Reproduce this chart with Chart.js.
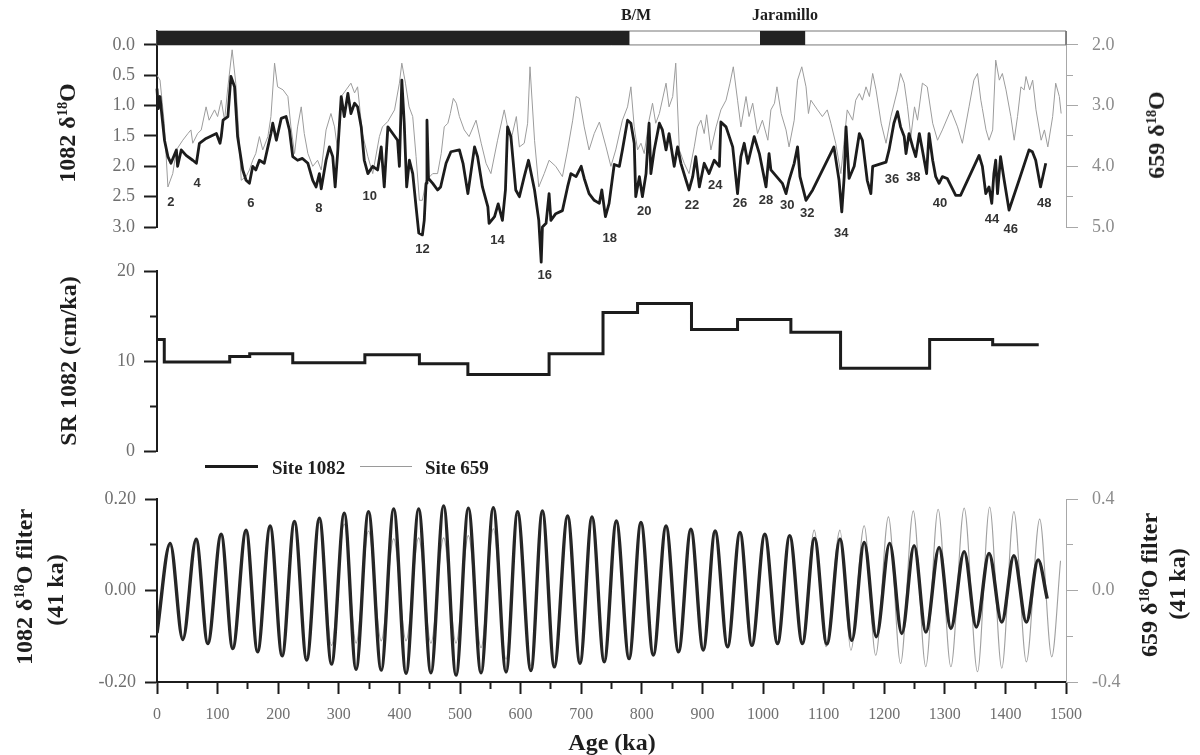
<!DOCTYPE html>
<html>
<head>
<meta charset="utf-8">
<title>ODP 1082 / 659 oxygen isotopes</title>
<script src="https://cdn.jsdelivr.net/npm/chart.js@4.4.1/dist/chart.umd.min.js"></script>
<style>
body { margin: 0; background: #fff; }
#fig { position: relative; width: 1200px; height: 755px; overflow: hidden; font-family: "Liberation Serif", "Times New Roman", serif; }
#fig canvas { position: absolute; left: 0; top: 0; }
.txt { position: absolute; white-space: nowrap; font-weight: bold; color: #1e1e1e; line-height: 1; }
.vert { transform: translate(-50%, -50%) rotate(-90deg); }
.mid { transform: translate(-50%, -50%); }
.sup { font-size: 0.6em; position: relative; top: -0.55em; }
.title { font-size: 24px; }
.chron { font-size: 16px; }
.leg { font-size: 19px; transform: translateY(-50%); }
.legline { position: absolute; height: 0; }
</style>
</head>
<body>
<div id="fig">
	<canvas id="isoChart" width="1200" height="755"></canvas>
	<canvas id="srChart" width="1200" height="755"></canvas>
	<canvas id="filtChart" width="1200" height="755"></canvas>

	<div class="txt chron mid" style="left:636px; top:15px;">B/M</div>
	<div class="txt chron mid" style="left:785px; top:15px;">Jaramillo</div>

	<div class="txt title vert" style="left:67px; top:133px;">1082 δ<span class="sup">18</span>O</div>
	<div class="txt title vert" style="left:1156px; top:135px;">659 δ<span class="sup">18</span>O</div>
	<div class="txt title vert" style="left:68px; top:361px;">SR 1082 (cm/ka)</div>
	<div class="txt title vert" style="left:24px; top:587px;">1082 δ<span class="sup">18</span>O filter</div>
	<div class="txt title vert" style="left:55px; top:590px;">(41 ka)</div>
	<div class="txt title vert" style="left:1149px; top:585px;">659 δ<span class="sup">18</span>O filter</div>
	<div class="txt title vert" style="left:1177px; top:584px;">(41 ka)</div>
	<div class="txt title mid" style="left:612px; top:742px;">Age (ka)</div>

	<div class="legline" style="left:205px; top:465px; width:53px; border-top:3px solid #1c1c1c;"></div>
	<div class="txt leg" style="left:272px; top:467px;">Site 1082</div>
	<div class="legline" style="left:360px; top:466px; width:52px; border-top:1px solid #9a9a9a;"></div>
	<div class="txt leg" style="left:425px; top:467px;">Site 659</div>
</div>

<script>
// ---- data ----

// normal polarity chrons (ka)
var chronStart = [0, 995];
var chronEnd = [780, 1070];

// marine isotope stage numbers and where they sit (age, 1082 d18O units)
var stageNum = [2, 4, 6, 8, 10, 12, 14, 16, 18, 20, 22, 24, 26, 28, 30, 32, 34, 36, 38, 40, 44, 46, 48];
var stageAge = [23, 66, 155, 267, 351, 438, 562, 640, 747, 804, 883, 921, 962, 1005, 1040, 1073, 1129, 1213, 1248, 1292, 1378, 1409, 1464];
var stageDepth = [2.59, 2.29, 2.61, 2.69, 2.49, 3.37, 3.22, 3.80, 3.19, 2.75, 2.64, 2.32, 2.61, 2.56, 2.64, 2.77, 3.10, 2.21, 2.18, 2.61, 2.87, 3.04, 2.61];

// Site 1082 benthic d18O
var age1082 = [0, 2, 5, 8, 12.4, 18, 23, 32, 34, 40, 48, 59, 65, 70, 81, 98, 104, 106, 109, 117,
	122, 128, 133, 141.5, 147, 152.5, 158, 163, 169, 177, 183, 188, 191, 197, 205, 213, 218.5, 224, 232, 240,
	249, 257, 262.5, 268, 271, 279, 284.5, 290, 294, 298, 304, 309, 315, 320, 326, 331, 337, 342, 348, 356,
	364, 370, 375, 381, 389, 397, 400, 404, 408, 412, 416.5, 422, 427.5, 432, 438, 441, 444, 445.5, 448, 455,
	463, 468, 477, 485, 499, 505, 513, 524, 529, 537, 546, 548, 557, 563, 570, 575, 578.5, 584, 592, 598,
	606, 613, 623, 630, 634, 636, 642, 647, 650, 658, 669, 677.5, 683, 691.5, 700, 705, 713, 721.5, 730, 734,
	740, 746, 754.5, 763, 768, 776.5, 782, 787.5, 790, 796, 801, 807, 812, 815, 820.5, 829, 834, 840, 845, 853.5,
	859, 864.5, 873, 878, 884, 889, 895, 903, 911, 919.5, 928, 930.5, 939, 950, 958, 963.5, 969, 975, 985.5, 994,
	1005, 1010, 1013, 1032, 1038, 1043, 1051.5, 1057, 1061, 1071, 1082, 1117, 1125.5, 1130, 1134, 1137, 1142, 1150.5, 1159, 1164,
	1172, 1178, 1181, 1203, 1208, 1216, 1222, 1227, 1233, 1236, 1241, 1247, 1252, 1258, 1263, 1270, 1274, 1280, 1285, 1290.5,
	1296, 1304, 1318, 1326, 1356.6, 1362, 1367.6, 1373, 1377.5, 1381, 1384, 1387, 1392, 1398, 1406, 1422.5, 1439, 1444.5, 1450, 1458,
	1466.6];
var d18o1082 = [0.72, 1.05, 0.85, 1.15, 1.57, 1.84, 1.95, 1.73, 2.0, 1.73, 1.82, 1.9, 1.95, 1.62, 1.54, 1.46, 1.62, 1.51, 1.24, 1.18,
	0.52, 0.69, 1.51, 2.06, 2.23, 2.28, 2.0, 2.06, 1.9, 1.95, 1.68, 1.46, 1.29, 1.57, 1.21, 1.18, 1.4, 1.84, 1.9, 1.87,
	1.95, 2.23, 2.34, 2.12, 2.37, 1.9, 1.68, 1.84, 2.34, 1.79, 0.85, 1.18, 0.8, 1.13, 0.96, 1.02, 1.35, 1.9, 2.12, 2.0,
	2.06, 1.68, 2.34, 1.35, 1.46, 1.57, 2.0, 0.58, 1.29, 2.34, 1.9, 2.12, 2.67, 3.1, 3.13, 2.89, 2.28, 1.24, 2.2, 2.28,
	2.39, 2.34, 1.95, 1.76, 1.73, 1.95, 2.45, 1.68, 1.84, 2.34, 2.67, 2.94, 2.83, 2.62, 2.89, 2.39, 1.35, 1.51, 2.39, 2.5,
	2.17, 1.9, 2.39, 2.89, 3.58, 3.0, 2.94, 2.45, 2.89, 2.78, 2.73, 2.34, 2.12, 2.17, 2.0, 2.2, 2.45, 2.56, 2.61, 2.39,
	2.83, 2.61, 1.97, 2.0, 1.73, 1.24, 1.29, 1.62, 2.5, 2.17, 2.5, 2.12, 1.29, 2.12, 1.73, 1.29, 1.4, 1.73, 1.46, 2.0,
	1.68, 1.95, 2.23, 2.39, 2.17, 1.84, 2.34, 1.95, 2.12, 1.9, 2.0, 1.27, 1.35, 1.68, 2.45, 1.84, 1.62, 1.95, 1.51, 1.79,
	2.34, 1.79, 2.06, 2.28, 2.45, 2.23, 1.95, 1.68, 2.17, 2.56, 2.39, 1.68, 2.23, 2.75, 2.17, 1.35, 2.2, 2.0, 1.46, 1.57,
	2.23, 2.45, 2.0, 1.93, 1.73, 1.29, 1.1, 1.35, 1.51, 1.79, 1.46, 1.68, 1.84, 1.46, 1.73, 2.12, 1.46, 1.9, 2.17, 2.28,
	2.17, 2.2, 2.48, 2.48, 1.82, 2.0, 2.45, 2.34, 2.61, 2.12, 1.9, 2.45, 1.84, 2.23, 2.72, 2.23, 1.73, 1.76, 1.9, 2.34,
	1.95];

// Site 659 benthic d18O
var age659 = [0, 5, 12, 18, 26, 32, 42.5, 51, 56, 59, 67, 73, 81, 86, 95, 100, 106, 111.5, 117, 124,
	130, 135, 139, 147, 152.5, 158, 163, 169, 174.5, 183, 188, 194, 199, 208, 216, 221, 227, 232, 238, 243,
	249, 257, 265, 271, 279, 287, 293, 298, 304, 312, 320, 326, 331, 339, 348, 356, 367, 372, 381, 392,
	400, 404, 410, 416, 422, 427.5, 433, 438, 444, 455, 463, 469, 474, 480, 484, 489, 494, 499, 507, 515,
	526.5, 535, 543, 551, 562, 573, 578.5, 584, 593, 598, 606, 611.6, 615.5, 623, 630, 639, 647, 658, 669, 677.5,
	686, 691.5, 697, 705, 713, 721.5, 730, 741, 749, 757, 768, 776.5, 782, 787.5, 793, 798.6, 804, 812, 817.7, 823,
	829, 840, 845, 851, 856, 862, 870, 878, 886.5, 892, 897.6, 903, 907, 914, 922.6, 930.5, 939, 945.5, 951, 958,
	963.5, 972, 977, 983, 991, 999, 1008, 1013, 1019, 1023, 1030, 1038, 1043, 1051.5, 1057, 1064, 1071, 1075, 1079, 1090,
	1098, 1106, 1112, 1120, 1128.5, 1134, 1139, 1148, 1153, 1159, 1164, 1170, 1175.6, 1181, 1186.5, 1195, 1203, 1211, 1222, 1227,
	1233, 1238.5, 1244, 1250, 1255, 1263, 1271, 1280, 1288, 1296, 1310, 1321, 1329, 1340, 1348, 1354, 1359.5, 1362, 1368, 1373,
	1379, 1384, 1390, 1395, 1401, 1409, 1414.5, 1420, 1425.6, 1431, 1434, 1440, 1445, 1450.5, 1459, 1464.4, 1470, 1478, 1483, 1489,
	1492];
var d18o659 = [2.5, 2.58, 3.29, 4.34, 4.12, 3.73, 3.57, 3.46, 3.4, 3.62, 3.46, 3.4, 3.02, 3.24, 3.07, 3.18, 2.91, 3.24, 2.69, 2.08,
	2.63, 3.46, 4.23, 4.17, 4.06, 3.9, 3.79, 3.51, 3.73, 3.51, 3.18, 2.3, 2.69, 2.74, 2.85, 3.35, 3.79, 3.35, 3.02, 3.46,
	3.79, 4.0, 3.9, 4.06, 3.4, 3.13, 3.35, 3.73, 2.85, 2.74, 2.63, 2.79, 2.69, 3.46, 3.84, 4.12, 3.51, 3.35, 3.26, 3.07,
	2.63, 2.3, 2.63, 3.02, 3.18, 3.84, 4.56, 4.56, 4.23, 4.12, 4.12, 3.79, 3.35, 3.29, 3.13, 2.88, 2.96, 3.18, 3.4, 3.51,
	3.24, 3.62, 3.95, 4.12, 3.57, 3.07, 3.35, 3.57, 3.18, 3.68, 3.62, 3.29, 2.36, 3.57, 4.34, 4.12, 3.9, 4.0, 4.17, 3.73,
	3.24, 2.85, 2.88, 3.35, 3.73, 3.46, 3.27, 3.68, 4.0, 3.73, 3.24, 3.02, 2.69, 3.35, 3.73, 3.62, 3.79, 3.24, 2.96, 3.29,
	3.13, 2.63, 3.02, 2.85, 2.3, 3.73, 3.95, 4.12, 3.68, 3.35, 3.24, 3.46, 3.15, 3.73, 3.35, 3.07, 2.91, 2.63, 2.36, 2.91,
	3.35, 2.85, 3.18, 2.96, 3.46, 3.24, 3.57, 3.07, 2.96, 2.69, 3.13, 3.4, 3.68, 3.24, 2.58, 2.36, 2.69, 3.13, 2.91, 3.07,
	3.18, 3.07, 3.29, 3.62, 4.12, 3.57, 3.07, 3.24, 2.91, 2.8, 2.91, 2.69, 2.85, 2.47, 2.74, 3.29, 3.62, 3.18, 2.74, 2.47,
	2.63, 3.02, 3.51, 3.02, 3.24, 2.63, 2.69, 3.29, 3.57, 3.4, 3.07, 3.35, 3.62, 3.02, 2.58, 2.47, 2.91, 3.05, 3.4, 3.57,
	3.4, 2.25, 2.58, 2.47, 2.74, 3.18, 3.57, 3.18, 2.69, 2.74, 2.52, 2.74, 2.58, 3.07, 3.57, 3.4, 3.68, 3.18, 2.63, 2.85,
	3.13];

// Site 1082 sedimentation rate, value held from each age to the next
var srAge = [0, 12, 120, 153, 224, 343, 433, 513, 647, 736, 793, 882, 958, 1046, 1128, 1275, 1379, 1455];
var srRate = [12.4, 9.9, 10.5, 10.8, 9.8, 10.7, 9.7, 8.5, 10.8, 15.4, 16.4, 13.5, 14.6, 13.2, 9.2, 12.4, 11.8, 11.8];

// 41-ka band-pass filter, turning points (peaks and troughs)
var filtAge1082 = [0, 21.7, 42.6, 64.6, 83.8, 105.9, 125, 147, 166, 186.7, 206.5, 226.8, 247, 268, 288, 309, 328.5, 349, 370, 390.6,
	411, 431.8, 452, 473, 493.5, 513.8, 534.7, 555, 576, 595, 617, 636, 655.6, 677.6, 698, 717.8, 738, 758, 779, 798.6,
	819, 840, 860.6, 881, 901.4, 921, 941.5, 962, 981.6, 1003, 1024, 1044, 1065, 1085, 1105.4, 1127, 1146.6, 1167, 1187, 1209,
	1229, 1249.4, 1268.7, 1290.6, 1310, 1332, 1352, 1373, 1394, 1414, 1434.6, 1454, 1469];
var filt1082 = [-0.093, 0.103, -0.107, 0.112, -0.116, 0.123, -0.127, 0.132, -0.134, 0.141, -0.143, 0.151, -0.152, 0.158, -0.161, 0.169, -0.172, 0.172, -0.174, 0.178,
	-0.181, 0.178, -0.18, 0.185, -0.185, 0.18, -0.18, 0.181, -0.178, 0.172, -0.175, 0.174, -0.167, 0.163, -0.159, 0.161, -0.156, 0.152, -0.149, 0.149,
	-0.141, 0.141, -0.134, 0.134, -0.13, 0.13, -0.123, 0.127, -0.12, 0.123, -0.116, 0.12, -0.116, 0.114, -0.117, 0.112, -0.109, 0.105, -0.101, 0.103,
	-0.094, 0.098, -0.091, 0.094, -0.083, 0.085, -0.08, 0.081, -0.069, 0.076, -0.069, 0.067, -0.018];
var filtAge659 = [0, 21.7, 42.6, 64.6, 83.8, 105.9, 125, 147, 166, 186.7, 206.5, 226.8, 247, 268, 288, 309, 328.5, 349, 370, 390.6,
	411, 431.8, 452, 473, 493.5, 513.8, 534.7, 555, 576, 595, 617, 636, 655.6, 677.6, 698, 717.8, 738, 758, 779, 798.6,
	819, 840, 860.6, 881, 901.4, 921, 941.5, 962, 981.6, 1003, 1024, 1044, 1065, 1084.5, 1104, 1127, 1145, 1167, 1186, 1207,
	1227, 1248, 1268.6, 1289, 1310, 1332, 1354, 1374, 1394, 1414, 1434.6, 1456.6, 1476.5, 1491];
var filt659 = [-0.18, 0.196, -0.204, 0.214, -0.222, 0.236, -0.244, 0.254, -0.258, 0.272, -0.276, 0.29, -0.29, 0.3, -0.24, 0.29, -0.23, 0.26, -0.22, 0.226,
	-0.22, 0.23, -0.23, 0.23, -0.23, 0.24, -0.25, 0.27, -0.3, 0.33, -0.33, 0.335, -0.32, 0.315, -0.305, 0.31, -0.3, 0.295, -0.29, 0.29,
	-0.275, 0.275, -0.26, 0.26, -0.25, 0.25, -0.24, 0.25, -0.235, 0.24, -0.225, 0.235, -0.225, 0.264, -0.246, 0.264, -0.261, 0.283, -0.283, 0.322,
	-0.319, 0.348, -0.333, 0.355, -0.333, 0.36, -0.355, 0.365, -0.34, 0.345, -0.312, 0.312, -0.29, 0.13];

// axis ticks
var isoTicks1082 = [0, 0.5, 1.0, 1.5, 2.0, 2.5, 3.0];
var isoTicks659 = [2.0, 2.5, 3.0, 3.5, 4.0, 4.5, 5.0];
var filtTicks1082 = [-0.2, -0.1, 0, 0.1, 0.2];
var filtTicks659 = [-0.4, -0.2, 0, 0.2, 0.4];

// ---- helpers ----

function pairs(xs, ys) {
	var out = [];
	for (var i = 0; i < xs.length; i++) {
		out.push({x: xs[i], y: ys[i]});
	}
	return out;
}

function fixedTicks(list) {
	return function(scale) {
		scale.ticks = list.map(function(v) { return {value: v}; });
	};
}

function isWhole(v, step) {
	return Math.abs(v / step - Math.round(v / step)) < 1e-6;
}

// minor ticks: only the part next to the axis line is drawn
function minorDash(step, len, gap, inward) {
	return function(ctx) {
		if (!ctx.tick || isWhole(ctx.tick.value, step)) return [];
		return inward ? [0, gap, len, 100] : [len, 100];
	};
}

var serif = "'Liberation Serif', 'Times New Roman', serif";
var tickGrey = '#6f6f6f';
var ink = '#1c1c1c';
var LEFT_W = 157;
var RIGHT_W = 134;
var BAR_TOP = -0.23;

function leftAxis(extra) {
	var ax = {
		position: 'left',
		afterFit: function(s) { s.width = LEFT_W; },
		border: {display: true, color: ink, width: 2},
		grid: {drawOnChartArea: false, tickLength: 13, tickColor: ink, tickWidth: 2},
		ticks: {color: tickGrey, padding: 9, font: {family: serif, size: 18}}
	};
	for (var k in extra) ax[k] = extra[k];
	return ax;
}

function rightAxis(extra) {
	var ax = {
		position: 'right',
		afterFit: function(s) { s.width = RIGHT_W; },
		border: {display: true, color: '#a8a8a8', width: 1},
		grid: {drawOnChartArea: false, tickLength: 12, tickColor: '#a8a8a8', tickWidth: 1},
		ticks: {color: '#8c8c8c', padding: 14, font: {family: serif, size: 18}}
	};
	for (var k in extra) ax[k] = extra[k];
	return ax;
}

var hiddenAge = {type: 'linear', min: 0, max: 1500, display: false};

var baseOptions = {
	responsive: false,
	animation: false,
	devicePixelRatio: 1,
	events: [],
	plugins: {legend: {display: false}, tooltip: {enabled: false}}
};

function withBase(opts) {
	var o = {};
	for (var k in baseOptions) o[k] = baseOptions[k];
	for (var j in opts) o[j] = opts[j];
	return o;
}

// stage numbers under the 1082 record
var stageLabels = {
	id: 'stageLabels',
	afterDatasetsDraw: function(chart) {
		var ctx = chart.ctx;
		var xs = chart.scales.x;
		var ys = chart.scales.y;
		ctx.save();
		ctx.fillStyle = '#333';
		ctx.font = "bold 13px 'Liberation Sans', Arial, sans-serif";
		ctx.textAlign = 'center';
		ctx.textBaseline = 'middle';
		for (var i = 0; i < stageNum.length; i++) {
			ctx.fillText(String(stageNum[i]), xs.getPixelForValue(stageAge[i]), ys.getPixelForValue(stageDepth[i]));
		}
		ctx.restore();
	}
};

// ---- top panel: d18O records + polarity ----

var isoSets = [
	{data: pairs(age1082, d18o1082), yAxisID: 'y', borderColor: ink, borderWidth: 2.8, pointRadius: 0,
		borderJoinStyle: 'round', clip: false},
	{data: pairs(age659, d18o659), yAxisID: 'y2', borderColor: '#9c9c9c', borderWidth: 1, pointRadius: 0}
];
for (var c = 0; c < chronStart.length; c++) {
	isoSets.push({
		data: [{x: chronStart[c], y: BAR_TOP}, {x: chronEnd[c], y: BAR_TOP}],
		yAxisID: 'y', borderWidth: 0, pointRadius: 0, fill: {value: 0},
		backgroundColor: '#222', clip: false
	});
}
isoSets.push({
	data: [{x: 0, y: 0}, {x: 0, y: BAR_TOP}, {x: 1500, y: BAR_TOP}, {x: 1500, y: 0}, {x: 0, y: 0}],
	yAxisID: 'y', borderColor: '#777', borderWidth: 1, pointRadius: 0, clip: false
});

new Chart(document.getElementById('isoChart'), {
	type: 'line',
	data: {datasets: isoSets},
	options: withBase({
		layout: {padding: {left: 0, right: 0, top: 31, bottom: 528}},
		scales: {
			x: hiddenAge,
			y: leftAxis({
				reverse: true, min: BAR_TOP, max: 3.0,
				afterBuildTicks: fixedTicks(isoTicks1082),
				ticks: {color: tickGrey, padding: 9, font: {family: serif, size: 18},
					callback: function(v) { return v.toFixed(1); }}
			}),
			y2: rightAxis({
				reverse: true, min: 2 + BAR_TOP, max: 5.0,
				afterBuildTicks: fixedTicks(isoTicks659),
				grid: {drawOnChartArea: false, tickLength: 12, tickColor: '#a8a8a8', tickWidth: 1,
					tickBorderDash: minorDash(1, 6, 0, false)},
				ticks: {color: '#8c8c8c', padding: 14, font: {family: serif, size: 18},
					callback: function(v) { return isWhole(v, 1) ? v.toFixed(1) : ''; }}
			})
		}
	}),
	plugins: [stageLabels]
});

// ---- middle panel: sedimentation rate ----

new Chart(document.getElementById('srChart'), {
	type: 'line',
	data: {datasets: [{
		data: pairs(srAge, srRate), stepped: 'before',
		borderColor: ink, borderWidth: 3, pointRadius: 0
	}]},
	options: withBase({
		layout: {padding: {left: 0, right: RIGHT_W, top: 271, bottom: 304}},
		scales: {
			x: hiddenAge,
			y: leftAxis({
				min: 0, max: 20,
				afterBuildTicks: fixedTicks([0, 5, 10, 15, 20]),
				grid: {drawOnChartArea: false, tickLength: 13, tickColor: ink, tickWidth: 2,
					tickBorderDash: minorDash(10, 6, 6, true)},
				ticks: {color: tickGrey, padding: 9, font: {family: serif, size: 18},
					callback: function(v) { return isWhole(v, 10) ? String(v) : ''; }}
			})
		}
	})
});

// ---- bottom panel: 41-ka filtered records ----

new Chart(document.getElementById('filtChart'), {
	type: 'line',
	data: {datasets: [
		{data: pairs(filtAge1082, filt1082), yAxisID: 'y', borderColor: '#262626', borderWidth: 3.4,
			pointRadius: 0, cubicInterpolationMode: 'monotone'},
		{data: pairs(filtAge659, filt659), yAxisID: 'y2', borderColor: '#a0a0a0', borderWidth: 1.1,
			pointRadius: 0, cubicInterpolationMode: 'monotone'}
	]},
	options: withBase({
		layout: {padding: {left: 0, right: 0, top: 499, bottom: 33}},
		scales: {
			x: {
				type: 'linear', min: 0, max: 1500,
				afterBuildTicks: function(s) {
					var t = [];
					for (var v = 0; v <= 1500; v += 50) t.push({value: v});
					s.ticks = t;
				},
				afterFit: function(s) { s.height = 40; },
				border: {display: true, color: ink, width: 2},
				grid: {drawOnChartArea: false, tickLength: 12, tickColor: ink, tickWidth: 2,
					tickBorderDash: minorDash(100, 6, 0, false)},
				ticks: {color: tickGrey, padding: 11, maxRotation: 0, autoSkip: false,
					font: {family: serif, size: 16},
					callback: function(v) { return isWhole(v, 100) ? String(v) : ''; }}
			},
			y: leftAxis({
				min: -0.2, max: 0.2,
				afterBuildTicks: fixedTicks(filtTicks1082),
				grid: {drawOnChartArea: false, tickLength: 12, tickColor: ink, tickWidth: 2,
					tickBorderDash: minorDash(0.2, 6, 5, true)},
				ticks: {color: tickGrey, padding: 9, font: {family: serif, size: 18},
					callback: function(v) { return isWhole(v, 0.2) ? v.toFixed(2) : ''; }}
			}),
			y2: rightAxis({
				min: -0.4, max: 0.4,
				afterBuildTicks: fixedTicks(filtTicks659),
				grid: {drawOnChartArea: false, tickLength: 12, tickColor: '#a8a8a8', tickWidth: 1,
					tickBorderDash: minorDash(0.4, 6, 0, false)},
				ticks: {color: '#8c8c8c', padding: 14, font: {family: serif, size: 18},
					callback: function(v) { return isWhole(v, 0.4) ? v.toFixed(1) : ''; }}
			})
		}
	})
});
</script>
</body>
</html>
